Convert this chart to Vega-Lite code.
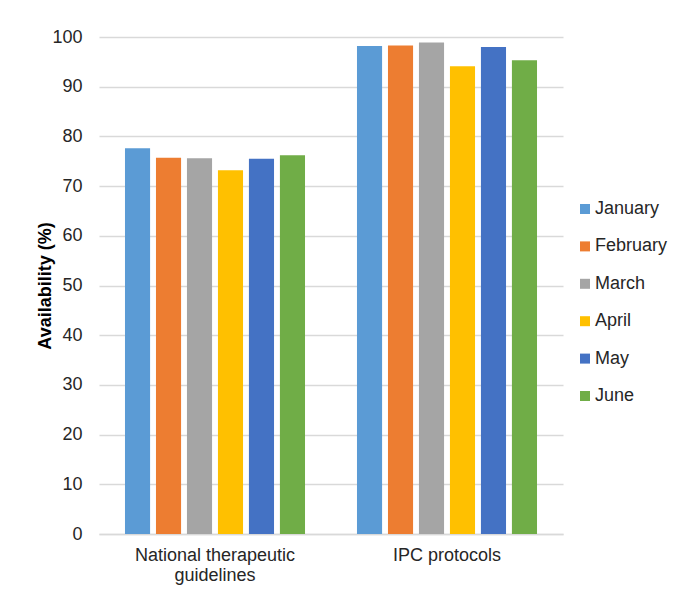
{
  "$schema": "https://vega.github.io/schema/vega-lite/v6.json",
  "autosize": {"type": "none"},
  "padding": {"left": 99, "top": 37, "right": 115, "bottom": 55},
  "width": 464,
  "height": 497,
  "background": "white",
  "config": {
    "view": {"stroke": null},
    "font": "Liberation Sans"
  },
  "data": {
    "values": [
      {"category": "National therapeutic guidelines", "month": "January", "value": 77.6},
      {"category": "National therapeutic guidelines", "month": "February", "value": 75.7},
      {"category": "National therapeutic guidelines", "month": "March", "value": 75.6},
      {"category": "National therapeutic guidelines", "month": "April", "value": 73.2},
      {"category": "National therapeutic guidelines", "month": "May", "value": 75.5},
      {"category": "National therapeutic guidelines", "month": "June", "value": 76.2},
      {"category": "IPC protocols", "month": "January", "value": 98.2},
      {"category": "IPC protocols", "month": "February", "value": 98.3},
      {"category": "IPC protocols", "month": "March", "value": 98.9},
      {"category": "IPC protocols", "month": "April", "value": 94.1},
      {"category": "IPC protocols", "month": "May", "value": 98.0},
      {"category": "IPC protocols", "month": "June", "value": 95.3}
    ]
  },
  "mark": {"type": "bar"},
  "encoding": {
    "x": {
      "field": "category",
      "type": "nominal",
      "sort": ["National therapeutic guidelines", "IPC protocols"],
      "scale": {"paddingInner": 0.224, "paddingOuter": 0.112},
      "axis": {
        "title": null,
        "labelAngle": 0,
        "labelFontSize": 18,
        "labelColor": "#262626",
        "labelPadding": 12,
        "labelLineHeight": 20,
        "labelBaseline": "top",
        "ticks": false,
        "domainColor": "#d9d9d9",
        "domainWidth": 1.5,
        "labelExpr": "datum.label == 'National therapeutic guidelines' ? ['National therapeutic', 'guidelines'] : datum.label"
      }
    },
    "xOffset": {
      "field": "month",
      "type": "nominal",
      "sort": ["January", "February", "March", "April", "May", "June"],
      "scale": {"paddingInner": 0.19, "paddingOuter": 0}
    },
    "y": {
      "field": "value",
      "type": "quantitative",
      "scale": {"domain": [0, 100]},
      "axis": {
        "title": "Availability (%)",
        "titleFontSize": 18,
        "titleFontWeight": "bold",
        "titleColor": "#000000",
        "titlePadding": -3,
        "values": [0, 10, 20, 30, 40, 50, 60, 70, 80, 90, 100],
        "labelFontSize": 18,
        "labelColor": "#262626",
        "labelPadding": 17,
        "ticks": false,
        "domain": false,
        "gridColor": "#d9d9d9",
        "gridWidth": 1.5
      }
    },
    "color": {
      "field": "month",
      "type": "nominal",
      "sort": ["January", "February", "March", "April", "May", "June"],
      "scale": {
        "domain": ["January", "February", "March", "April", "May", "June"],
        "range": ["#5B9BD5", "#ED7D31", "#A5A5A5", "#FFC000", "#4472C4", "#70AD47"]
      },
      "legend": {
        "title": null,
        "orient": "none",
        "legendX": 477,
        "legendY": 163,
        "symbolType": "square",
        "symbolSize": 100,
        "symbolStrokeWidth": 0,
        "labelFontSize": 18,
        "labelColor": "#262626",
        "labelOffset": 1,
        "rowPadding": 19.4
      }
    }
  }
}
